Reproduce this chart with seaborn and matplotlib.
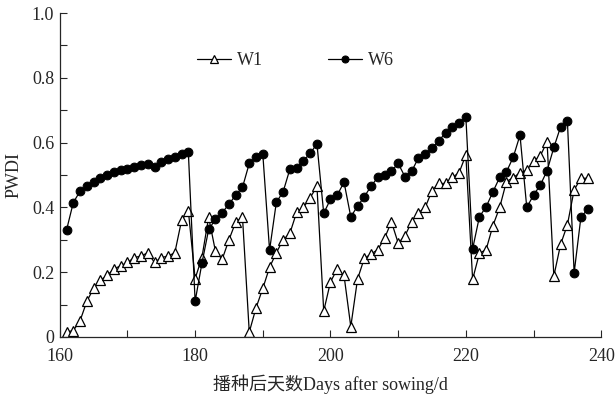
import matplotlib
matplotlib.use("Agg")
import matplotlib.pyplot as plt
import pandas as pd
import seaborn as sns
from matplotlib.ticker import MultipleLocator, FuncFormatter

# Days after sowing (one reading per day)
days = list(range(161, 239))

w1 = [0.015, 0.02, 0.05, 0.11, 0.15, 0.175, 0.19, 0.21, 0.22, 0.23,
      0.245, 0.25, 0.26, 0.23, 0.245, 0.25, 0.26, 0.36, 0.39, 0.18,
      0.245, 0.37, 0.265, 0.24, 0.30, 0.355, 0.37, 0.015, 0.09, 0.15,
      0.215, 0.26, 0.30, 0.32, 0.385, 0.40, 0.43, 0.465, 0.08, 0.17,
      0.21, 0.19, 0.032, 0.179, 0.243, 0.256, 0.27, 0.305, 0.356, 0.29,
      0.312, 0.356, 0.384, 0.40, 0.452, 0.474, 0.474, 0.493, 0.507, 0.562,
      0.178, 0.258, 0.27, 0.344, 0.40, 0.48, 0.492, 0.507, 0.515, 0.543,
      0.559, 0.603, 0.188, 0.286, 0.346, 0.454, 0.49, 0.49]

w6 = [0.33, 0.415, 0.45, 0.465, 0.48, 0.49, 0.50, 0.51, 0.515, 0.52,
      0.525, 0.53, 0.535, 0.524, 0.54, 0.55, 0.555, 0.565, 0.57, 0.11,
      0.227, 0.332, 0.363, 0.384, 0.41, 0.438, 0.462, 0.536, 0.555, 0.565,
      0.268, 0.416, 0.448, 0.518, 0.522, 0.544, 0.567, 0.596, 0.382, 0.425,
      0.438, 0.478, 0.371, 0.404, 0.433, 0.466, 0.493, 0.50, 0.512, 0.536,
      0.495, 0.512, 0.553, 0.564, 0.582, 0.606, 0.63, 0.647, 0.66, 0.68,
      0.272, 0.371, 0.402, 0.448, 0.493, 0.51, 0.555, 0.623, 0.40, 0.438,
      0.469, 0.513, 0.585, 0.649, 0.668, 0.198, 0.37, 0.394]

df = pd.DataFrame({"day": days, "W1": w1, "W6": w6})

sns.set_style("ticks")
plt.rcParams["font.family"] = ["Liberation Serif", "Noto Sans CJK SC"]

fig = plt.figure(figsize=(6.16, 3.96), dpi=100)
ax = fig.add_axes([0.097, 0.149, 0.879, 0.818])

sns.lineplot(data=df, x="day", y="W1", ax=ax, color="black", linewidth=0.9,
             marker="^", markersize=6.5, markerfacecolor="white",
             markeredgecolor="black", markeredgewidth=0.9, label="W1")
sns.lineplot(data=df, x="day", y="W6", ax=ax, color="black", linewidth=0.9,
             marker="o", markersize=6.3, markerfacecolor="black",
             markeredgecolor="black", label="W6")

ax.set_xlim(160, 240)
ax.set_ylim(0, 1.0)
ax.xaxis.set_major_locator(MultipleLocator(20))
ax.xaxis.set_minor_locator(MultipleLocator(10))
ax.yaxis.set_major_locator(MultipleLocator(0.2))
ax.yaxis.set_minor_locator(MultipleLocator(0.1))
ax.yaxis.set_major_formatter(FuncFormatter(lambda v, p: "0" if abs(v) < 1e-9 else f"{v:.1f}"))
ax.tick_params(which="both", direction="in", labelsize=13, width=0.8, length=5)
ax.tick_params(axis="x", pad=8)
ax.tick_params(axis="y", pad=4)

sns.despine(ax=ax)
for s in ("left", "bottom"):
    ax.spines[s].set_linewidth(0.9)

ax.set_xlabel("播种后天数Days after sowing/d", fontsize=13, labelpad=7)
ax.set_ylabel("PWDI", fontsize=13, labelpad=7)

ax.legend(loc="center", bbox_to_anchor=(0.435, 0.853), ncol=2, frameon=False,
          fontsize=13, handlelength=1.9, handletextpad=0.3, columnspacing=3.6,
          markerscale=0.8)

fig.savefig("out.png", dpi=100)
